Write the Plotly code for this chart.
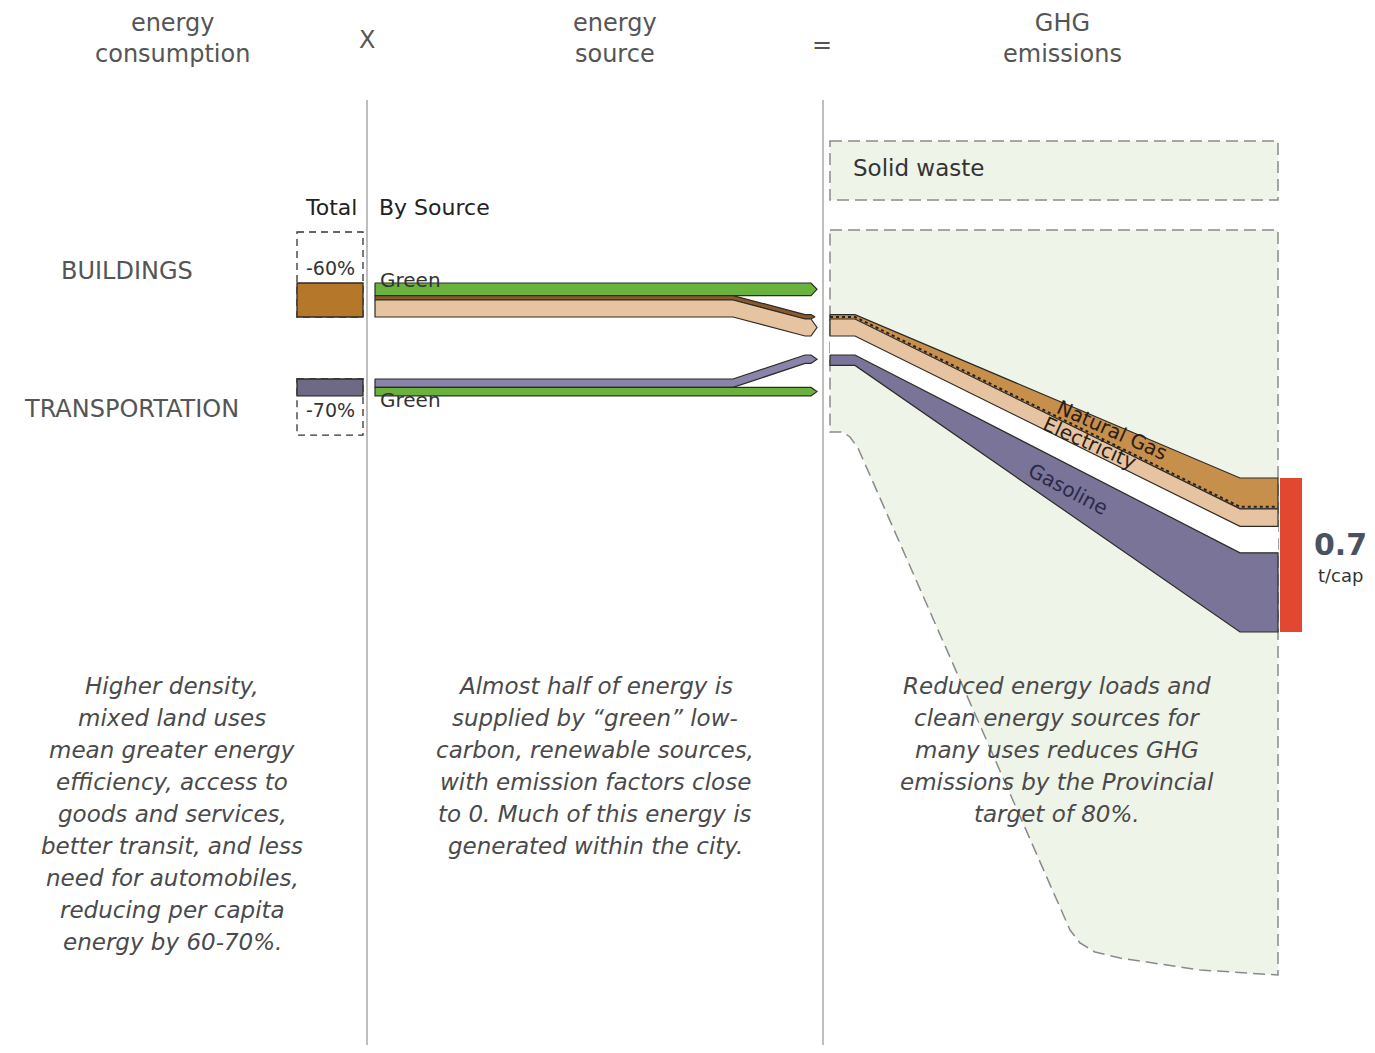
import plotly.graph_objects as go

# ---------------- data ----------------
sectors = ["BUILDINGS", "TRANSPORTATION"]
baseline_energy = [50.0, 33.0]          # relative per-capita energy, base case
reduction_pct = [60, 70]                # reduction from compact, mixed-use form
reduction_labels = ["-60%", "-70%"]

building_sources = ["Green", "Natural Gas", "Electricity"]
building_source_share = [0.37, 0.13, 0.50]
transport_sources = ["Gasoline", "Green"]
transport_source_share = [0.50, 0.50]

emission_sources = ["Natural Gas", "Electricity", "Gasoline"]
emission_values = [0.14, 0.08, 0.36]    # t CO2e per capita
total_emissions = 0.7
total_unit = "t/cap"

headers = ["energy<br>consumption", "X", "energy<br>source", "=", "GHG<br>emissions"]
notes_left = ["Higher density,", "mixed land uses", "mean greater energy",
              "efficiency, access to", "goods and services,",
              "better transit, and less", "need for automobiles,",
              "reducing per capita", "energy by 60-70%."]
notes_mid = ["Almost half of energy is", "supplied by \u201cgreen\u201d low-",
             "carbon, renewable sources,", "with emission factors close",
             "to 0. Much of this energy is", "generated within the city."]
notes_right = ["Reduced energy loads and", "clean energy sources for",
               "many uses reduces GHG", "emissions by the Provincial",
               "target of 80%."]

# ---------------- styles ----------------
W, H = 1375, 1053
PAD = 8               # page body margin compensation
ENERGY_PX = 1.7       # px per energy unit
EMIS_PX = 220.0       # px per t/cap
FONT = "DejaVu Sans"
C_BROWN = "#b5782a"
C_NG = "#c78f4c"
C_TAN = "#e6c4a1"
C_PURPLE_TOT = "#6e6a85"
C_PURPLE = "#8a84aa"
C_GAS = "#7a7498"
C_GREEN = "#6ab23e"
C_RED = "#e2482f"
C_LIGHT = "#eef4e7"
C_OUT = "#2e2a26"
C_DASH = "#8a8a8a"

fig = go.Figure()
shapes = []
ann = []


def text(x, y, s, size=18, color="#444", italic=False, bold=False, xanchor="center", angle=0, font=FONT):
    ann.append(dict(x=x, y=y, xref="x", yref="y", text=("<b>%s</b>" % s) if bold else s,
                    showarrow=False, xanchor=xanchor, yanchor="middle", textangle=angle,
                    font=dict(family=font, size=size, color=color,
                              style="italic" if italic else "normal")))


def poly(xs, ys, fill, line=C_OUT, width=1.2, dash=None):
    fig.add_trace(go.Scatter(x=xs, y=ys, mode="lines", fill="toself", fillcolor=fill,
                             line=dict(color=line, width=width, dash=dash),
                             hoverinfo="skip", showlegend=False))


def flow(x0, xb0, xb1, x1, top0, top1, h, color, tip=6):
    """Horizontal band with optional bend (xb0->xb1) and arrow tip at x1."""
    xs = [x0, xb0, xb1, x1, x1 + tip, x1, xb1, xb0, x0, x0]
    ys = [top0, top0, top1, top1, top1 + h / 2, top1 + h, top1 + h, top0 + h, top0 + h, top0]
    poly(xs, ys, color)


# ---------------- header ----------------
header_x = [172, 367, 615, 822, 1062]
header_y = [38, 40, 38, 45, 38]
for hx, hy, ht in zip(header_x, header_y, headers):
    text(hx, hy, ht, size=24, color="#555")

# divider lines
for lx in [367, 823]:
    shapes.append(dict(type="line", xref="x", yref="y", x0=lx, x1=lx, y0=100, y1=H,
                       line=dict(color="#a8a8a8", width=1.5)))

text(359, 207, "Total", size=22, color="#222", xanchor="right")
text(377, 207, "By Source", size=22, color="#222", xanchor="left")

# ---------------- totals ----------------
base_px = [b * ENERGY_PX for b in baseline_energy]
rem_px = [b * ENERGY_PX * (100 - r) / 100 for b, r in zip(baseline_energy, reduction_pct)]
BX0, BX1 = 297, 363
B_BOTTOM = 317        # buildings bar bottom
T_TOP = 379           # transportation bar top

b_top = B_BOTTOM - rem_px[0]
shapes.append(dict(type="rect", xref="x", yref="y", x0=BX0, x1=BX1, y0=B_BOTTOM - base_px[0], y1=B_BOTTOM,
                   line=dict(color="#333", width=1.3, dash="7px,5px"), fillcolor="white"))
shapes.append(dict(type="rect", xref="x", yref="y", x0=BX0, x1=BX1, y0=b_top, y1=B_BOTTOM,
                   line=dict(color=C_OUT, width=1.3), fillcolor=C_BROWN))
text(330, 268, reduction_labels[0], size=19, color="#333")
t_bot = T_TOP + rem_px[1]
shapes.append(dict(type="rect", xref="x", yref="y", x0=BX0, x1=BX1, y0=T_TOP, y1=T_TOP + base_px[1],
                   line=dict(color="#333", width=1.3, dash="7px,5px"), fillcolor="white"))
shapes.append(dict(type="rect", xref="x", yref="y", x0=BX0, x1=BX1, y0=T_TOP, y1=t_bot,
                   line=dict(color=C_OUT, width=1.3), fillcolor=C_PURPLE_TOT))
text(330, 410, reduction_labels[1], size=19, color="#333")

text(127, 271, sectors[0], size=24, color="#555")
text(131, 409, sectors[1], size=24, color="#555")

# ---------------- energy by source ----------------
FX0, FB0, FB1, FX1 = 375, 733, 805, 811
B_DROP = 19
T_RISE = -24
bh = [s * rem_px[0] for s in building_source_share]
th = [s * rem_px[1] for s in transport_source_share]

y = b_top
flow(FX0, FB0, FB1, FX1, y, y, bh[0], C_GREEN)
y_ng = y + bh[0]
flow(FX0, FB0, FB1, FX1, y_ng, y_ng + B_DROP, bh[1], "#8a5a2a", tip=4)
y_el = y_ng + bh[1]
flow(FX0, FB0, FB1, FX1, y_el, y_el + B_DROP, bh[2], C_TAN)
text(378, 280, building_sources[0], size=20, color="#333", xanchor="left")

y = T_TOP
flow(FX0, FB0, FB1, FX1, y, y + T_RISE, th[0], C_PURPLE)
flow(FX0, FB0, FB1, FX1, y + th[0], y + th[0], th[1], C_GREEN)
text(378, 400, transport_sources[1], size=20, color="#333", xanchor="left")

# ---------------- emissions panel ----------------
EX = [830, 855, 1240, 1278]
shapes.append(dict(type="rect", xref="x", yref="y", x0=830, x1=1278, y0=141, y1=200,
                   line=dict(color=C_DASH, width=1.5, dash="12px,6px"), fillcolor=C_LIGHT))
text(851, 168, "Solid waste", size=23, color="#333", xanchor="left")

area_x = [830, 1278, 1278, 1200, 1120, 1095, 1080, 1070, 858, 850, 843, 830, 830]
area_y = [230, 230, 975, 970, 958, 952, 943, 930, 448, 437, 432, 432, 230]
poly(area_x, area_y, C_LIGHT, line=C_DASH, width=1.5, dash="12px,6px")

E_TOP = 478
ew = [v * EMIS_PX for v in emission_values]
start_top = [y_ng + B_DROP, y_el + B_DROP, T_TOP + T_RISE]
start_w = [bh[1] + 2, bh[2], th[0] + 2]
end_top = [E_TOP, E_TOP + ew[0], E_TOP + total_emissions * EMIS_PX - ew[2]]


def edge(a, b):
    return [a, a, b, b]


gtop = edge(start_top[1] + start_w[1], end_top[1] + ew[1])
gbot = edge(start_top[2], end_top[2])
fig.add_trace(go.Scatter(x=EX + EX[::-1], y=gtop + gbot[::-1], mode="lines", fill="toself",
                         fillcolor="white", line=dict(width=0, color="white"),
                         hoverinfo="skip", showlegend=False))

ecolors = [C_NG, C_TAN, C_GAS]
for i in range(3):
    top = edge(start_top[i], end_top[i])
    bot = edge(start_top[i] + start_w[i], end_top[i] + ew[i])
    poly(EX + EX[::-1] + [EX[0]], top + bot[::-1] + [top[0]], ecolors[i])

seam = edge(start_top[1], end_top[1])
fig.add_trace(go.Scatter(x=EX, y=[s - 2 for s in seam], mode="lines",
                         line=dict(color="#222", width=2, dash="dot"),
                         hoverinfo="skip", showlegend=False))

text(1112, 430, emission_sources[0], size=20, color="#2a2016", angle=24)
text(1090, 443, emission_sources[1], size=20, color="#2a2016", angle=24)
text(1068, 489, emission_sources[2], size=20, color="#2a2a48", angle=28)

shapes.append(dict(type="rect", xref="x", yref="y", x0=1280, x1=1302, y0=E_TOP,
                   y1=E_TOP + total_emissions * EMIS_PX, line=dict(width=0), fillcolor=C_RED))
text(1340, 544, "%.1f" % total_emissions, size=30, color="#4a5260", bold=True)
text(1340, 575, total_unit, size=18, color="#333")

# ---------------- notes ----------------
for cx, lines in [(172, notes_left), (595, notes_mid), (1057, notes_right)]:
    for k, ln in enumerate(lines):
        text(cx, 686 + 32 * k, ln, size=23, color="#4a4a4a", italic=True)

fig.update_layout(
    width=W - PAD, height=H - 2 * PAD, margin=dict(l=0, r=0, t=0, b=0),
    paper_bgcolor="white", plot_bgcolor="white",
    xaxis=dict(range=[PAD, W], visible=False, fixedrange=True),
    yaxis=dict(range=[H - PAD, PAD], visible=False, fixedrange=True),
    shapes=shapes, annotations=ann, hovermode=False, showlegend=False,
)
fig.write_html("out.html")
